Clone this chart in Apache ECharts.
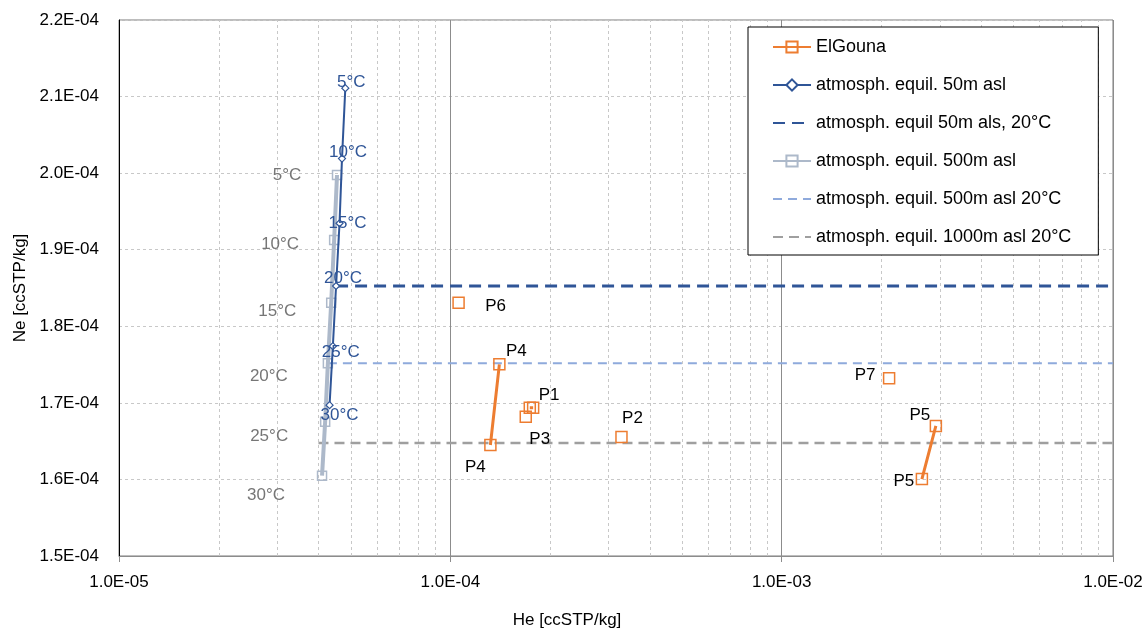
<!DOCTYPE html>
<html><head><meta charset="utf-8">
<script src="https://cdn.jsdelivr.net/npm/echarts@6/dist/echarts.min.js"></script>
<style>html,body{margin:0;padding:0;background:#fff}#c{width:1146px;height:629px}</style>
</head><body><div id="c"></div>
<script>
const FONT = "'Liberation Sans', Arial, sans-serif";

// ---- axes ----
const xMin = 1e-5, xMax = 1e-2;
const yMin = 1.5e-4, yMax = 2.2e-4, yInterval = 1e-5;
const minorGridX = [2e-5,3e-5,4e-5,5e-5,6e-5,7e-5,8e-5,9e-5,
                    2e-4,3e-4,4e-4,5e-4,6e-4,7e-4,8e-4,9e-4,
                    2e-3,3e-3,4e-3,5e-3,6e-3,7e-3,8e-3,9e-3];

// ---- data ----
const tempLabels = ['5°C','10°C','15°C','20°C','25°C','30°C'];
const he50  = [4.82e-5, 4.71e-5, 4.63e-5, 4.52e-5, 4.42e-5, 4.32e-5];
const ne50  = [2.111e-4, 2.019e-4, 1.9345e-4, 1.8526e-4, 1.774e-4, 1.697e-4];
const he500 = [4.55e-5, 4.46e-5, 4.37e-5, 4.27e-5, 4.19e-5, 4.10e-5];
const ne500 = [1.9976e-4, 1.9127e-4, 1.8308e-4, 1.7516e-4, 1.6754e-4, 1.6049e-4];

const elNames = ['P6','P4','P4','','P1','P3','P2','P7','P5','P5'];
const elHe    = [1.059e-4, 1.406e-4, 1.321e-4, 1.737e-4, 1.778e-4, 1.689e-4, 3.285e-4, 2.11e-3, 2.92e-3, 2.65e-3];
const elNe    = [1.8308e-4, 1.7503e-4, 1.645e-4, 1.6937e-4, 1.6937e-4, 1.682e-4, 1.6554e-4, 1.732e-4, 1.6698e-4, 1.6005e-4];
const elGroup = [0, 1, 1, 2, 2, 3, 4, 5, 6, 6];

const eq50He   = [4.52e-5, 1e-2], eq50Ne   = [1.8526e-4, 1.8526e-4];
const eq500He  = [4.27e-5, 1e-2], eq500Ne  = [1.7516e-4, 1.7516e-4];
const eq1000He = [4.0e-5, 1e-2],  eq1000Ne = [1.6476e-4, 1.6476e-4];

// ---- label placement (style, not data) ----
const off50  = [[6,-6],[6,-6],[8,0],[7,-8],[8,6],[10,10]];
const off500 = [[-50,0],[-54,4],[-54,9],[-59,13],[-56,15],[-56,20]];
const offEl  = [[37,4],[17,-13],[-15,22],[0,0],[16,-12],[14,23],[11,-19],[-24,-3],[-16,-11],[-18,2]];

const names = ['ElGouna','atmosph. equil. 50m asl','atmosph. equil 50m als, 20°C',
  'atmosph. equil. 500m asl','atmosph. equil. 500m asl 20°C','atmosph. equil. 1000m asl 20°C'];

function fmt(v){
  const s = Number(v).toExponential(1).split('e');
  const n = parseInt(s[1],10);
  return s[0] + 'E' + (n < 0 ? '-' : '+') + String(Math.abs(n)).padStart(2,'0');
}

const elData = [];
elHe.forEach((h,i)=>{
  if (i > 0 && elGroup[i] !== elGroup[i-1]) elData.push(['-','-']);
  elData.push({value:[h, elNe[i]], label:{show: elNames[i] !== '', formatter: elNames[i], offset: offEl[i]}});
});
const d50 = he50.map((h,i)=>({value:[h, ne50[i]], label:{formatter: tempLabels[i], offset: off50[i]}}));
const d500 = he500.map((h,i)=>({value:[h, ne500[i]], label:{formatter: tempLabels[i], offset: off500[i]}}));
const pair = (xs, ys) => xs.map((x,i)=>[x, ys[i]]);

const ORANGE = '#ED7D31', BLUE = '#2F5597', GRAYBLUE = '#ADB9CA', LIGHTBLUE = '#8FAADC', GRAY = '#9f9f9f';
const CLEAR = 'rgba(255,255,255,0)';

const chart = echarts.init(document.getElementById('c'), null, {renderer:'canvas'});
chart.setOption({
  animation: false,
  backgroundColor: '#fff',
  textStyle: {fontFamily: FONT},
  grid: {left:119, right:33, top:20, bottom:73, containLabel:false, outerBoundsMode:'none',
         show:true, borderColor:'#7a7a7a', borderWidth:1, backgroundColor:'transparent'},
  xAxis: {
    type:'log', logBase:10, min:xMin, max:xMax,
    name:'He [ccSTP/kg]', nameLocation:'middle', nameGap:56,
    nameTextStyle:{fontSize:17, color:'#000', fontFamily:FONT, padding:[0,98,0,0]},
    axisLine:{show:true, lineStyle:{color:'#8c8c8c', width:1}},
    axisTick:{show:true, length:6, lineStyle:{color:'#8c8c8c'}},
    axisLabel:{formatter: fmt, fontSize:17, color:'#000', fontFamily:FONT, margin:18},
    splitLine:{show:true, lineStyle:{color:'#8c8c8c', width:1}},
    minorTick:{show:false}
  },
  yAxis: {
    type:'value', min:yMin, max:yMax, interval:yInterval,
    name:'Ne [ccSTP/kg]', nameLocation:'middle', nameGap:90,
    nameTextStyle:{fontSize:17, color:'#000', fontFamily:FONT},
    axisLine:{show:true, lineStyle:{color:'#000', width:1}},
    axisTick:{show:false},
    axisLabel:{formatter: fmt, fontSize:17, color:'#000', fontFamily:FONT, margin:20},
    splitLine:{show:true, lineStyle:{color:'#c8c8c8', width:1, type:[3,3]}}
  },
  legend: {
    orient:'vertical', left:748, top:27,
    padding:[11,27,9,24], itemGap:20, itemWidth:38, itemHeight:14,
    backgroundColor:'#fff', borderColor:'#000', borderWidth:1,
    textStyle:{fontSize:18, color:'#000', fontFamily:FONT},
    selectedMode:false, data:names
  },
  series: [
    {
      type:'custom', silent:true, z:0,
      data: minorGridX.map(v=>[v, yMin]),
      renderItem:(params, api)=>{
        const p1 = api.coord([api.value(0), yMin]);
        const p2 = api.coord([api.value(0), yMax]);
        const x = Math.round(p1[0]) + 0.5;
        return {type:'line', shape:{x1:x, y1:p1[1], x2:x, y2:p2[1]},
          style:{stroke:'#c8c8c8', lineWidth:1, lineDash:[3,3]}};
      }
    },
    {
      name:names[0], type:'line', z:3, connectNulls:false,
      data: elData,
      symbol:'rect', symbolSize:11,
      lineStyle:{color:ORANGE, width:3},
      itemStyle:{color:CLEAR, borderColor:ORANGE, borderWidth:1.5},
      label:{show:true, position:'inside', fontSize:17, color:'#000', fontFamily:FONT},
      emphasis:{disabled:true}
    },
    {
      name:names[1], type:'line', z:4,
      data: d50,
      symbol:'diamond', symbolSize:7,
      lineStyle:{color:BLUE, width:2},
      itemStyle:{color:'#fff', borderColor:BLUE, borderWidth:1.2},
      label:{show:true, position:'inside', fontSize:17, color:BLUE, fontFamily:FONT},
      emphasis:{disabled:true}
    },
    {
      name:names[2], type:'line', z:2, symbol:'circle', showSymbol:false,
      data: pair(eq50He, eq50Ne),
      lineStyle:{color:BLUE, width:3, type:[12,7]},
      itemStyle:{color:CLEAR, borderWidth:0},
      emphasis:{disabled:true}
    },
    {
      name:names[3], type:'line', z:3,
      data: d500,
      symbol:'rect', symbolSize:9,
      lineStyle:{color:GRAYBLUE, width:4},
      itemStyle:{color:CLEAR, borderColor:GRAYBLUE, borderWidth:1.5},
      label:{show:true, position:'inside', fontSize:17, color:'#767676', fontFamily:FONT},
      emphasis:{disabled:true}
    },
    {
      name:names[4], type:'line', z:2, symbol:'circle', showSymbol:false,
      data: pair(eq500He, eq500Ne),
      lineStyle:{color:LIGHTBLUE, width:2, type:[9,6]},
      itemStyle:{color:CLEAR, borderWidth:0},
      emphasis:{disabled:true}
    },
    {
      name:names[5], type:'line', z:2, symbol:'circle', showSymbol:false,
      data: pair(eq1000He, eq1000Ne),
      lineStyle:{color:GRAY, width:2.5, type:[10,6]},
      itemStyle:{color:CLEAR, borderWidth:0},
      emphasis:{disabled:true}
    }
  ]
});
</script></body></html>
